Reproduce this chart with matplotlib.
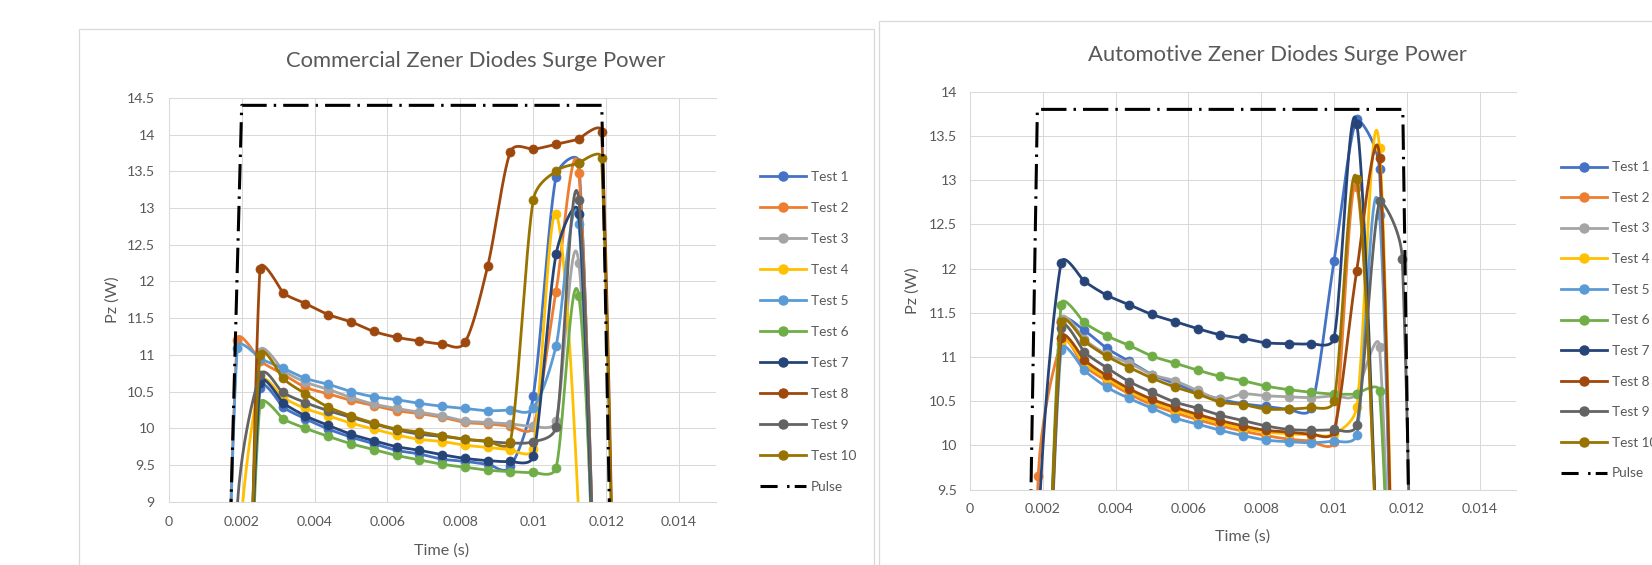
import matplotlib
matplotlib.use('Agg')
import matplotlib.pyplot as plt
import numpy as np
from matplotlib.lines import Line2D
from matplotlib.patches import Rectangle

W, H, DPI = 1652, 565, 100

# ---------------- data ----------------
time_s = [0.00125, 0.001875, 0.0025, 0.003125, 0.00375, 0.004375, 0.005,
          0.005625, 0.00625, 0.006875, 0.0075, 0.008125, 0.00875, 0.009375,
          0.01, 0.010625, 0.01125, 0.011875, 0.0125]

series_labels = ['Test 1', 'Test 2', 'Test 3', 'Test 4', 'Test 5',
                 'Test 6', 'Test 7', 'Test 8', 'Test 9', 'Test 10']
series_colors = ['#4472C4', '#ED7D31', '#A5A5A5', '#FFC000', '#5B9BD5',
                 '#70AD47', '#264478', '#9E480E', '#636363', '#997300']

# Commercial Zener diodes
com_test1 = [0, 3.0, 10.55, 10.29, 10.13, 9.99, 9.88, 9.79, 9.70, 9.65, 9.58, 9.55, 9.51, 9.48, 10.44, 13.43, 13.62, 5.0, 0]
com_test2 = [0, 11.20, 10.92, 10.74, 10.56, 10.47, 10.38, 10.31, 10.24, 10.20, 10.15, 10.08, 10.06, 10.03, 10.02, 11.86, 13.48, 5.0, 0]
com_test3 = [0, 3.0, 11.04, 10.79, 10.63, 10.53, 10.42, 10.33, 10.27, 10.22, 10.17, 10.10, 10.08, 10.06, 10.03, 10.10, 12.25, 5.0, 0]
com_test4 = [0, 8.0, 10.63, 10.42, 10.27, 10.17, 10.07, 9.99, 9.91, 9.85, 9.82, 9.77, 9.74, 9.71, 9.72, 12.92, 8.8, 0, 0]
com_test5 = [0, 11.10, 10.95, 10.82, 10.68, 10.60, 10.50, 10.43, 10.39, 10.34, 10.30, 10.27, 10.24, 10.25, 10.28, 11.12, 12.78, 5.0, 0]
com_test6 = [0, 3.0, 10.33, 10.13, 10.00, 9.89, 9.79, 9.71, 9.63, 9.57, 9.51, 9.47, 9.43, 9.41, 9.40, 9.46, 11.80, 5.5, 0]
com_test7 = [0, 3.0, 10.62, 10.35, 10.17, 10.04, 9.92, 9.83, 9.75, 9.70, 9.64, 9.59, 9.56, 9.55, 9.62, 12.37, 12.92, 5.0, 0]
com_test8 = [0, 0, 12.17, 11.85, 11.70, 11.55, 11.45, 11.32, 11.24, 11.19, 11.15, 11.17, 12.21, 13.77, 13.80, 13.87, 13.94, 14.04, 0]
com_test9 = [0, 8.9, 10.72, 10.49, 10.35, 10.24, 10.15, 10.06, 9.98, 9.92, 9.89, 9.85, 9.82, 9.80, 9.82, 10.02, 13.11, 5.0, 0]
com_test10 = [0, 3.0, 11.00, 10.68, 10.47, 10.29, 10.17, 10.07, 9.99, 9.95, 9.90, 9.85, 9.83, 9.82, 13.11, 13.50, 13.61, 13.68, 0]

# Automotive Zener diodes
aut_test1 = [0, 5.0, 11.40, 11.30, 11.10, 10.95, 10.80, 10.70, 10.60, 10.52, 10.47, 10.44, 10.41, 10.42, 12.08, 13.69, 13.12, 4.0, 0]
aut_test2 = [0, 9.65, 11.15, 10.90, 10.73, 10.58, 10.46, 10.37, 10.29, 10.22, 10.16, 10.11, 10.07, 10.05, 10.04, 12.92, 8.0, 0, 0]
aut_test3 = [0, 5.0, 11.42, 11.20, 11.03, 10.93, 10.80, 10.73, 10.62, 10.52, 10.58, 10.56, 10.55, 10.54, 10.56, 10.58, 11.11, 4.0, 0]
aut_test4 = [0, 5.0, 11.17, 10.93, 10.76, 10.61, 10.49, 10.40, 10.32, 10.25, 10.19, 10.15, 10.13, 10.12, 10.13, 10.43, 13.36, 4.0, 0]
aut_test5 = [0, 5.0, 11.08, 10.85, 10.66, 10.53, 10.42, 10.31, 10.24, 10.17, 10.11, 10.06, 10.04, 10.03, 10.05, 10.12, 12.60, 4.0, 0]
aut_test6 = [0, 5.0, 11.59, 11.39, 11.24, 11.13, 11.01, 10.93, 10.85, 10.78, 10.73, 10.67, 10.63, 10.60, 10.58, 10.58, 10.61, 4.0, 0]
aut_test7 = [0, 9.0, 12.06, 11.86, 11.70, 11.59, 11.48, 11.40, 11.32, 11.25, 11.21, 11.16, 11.15, 11.15, 11.21, 13.64, 8.0, 0, 0]
aut_test8 = [0, 5.0, 11.21, 10.97, 10.79, 10.64, 10.52, 10.43, 10.35, 10.28, 10.22, 10.17, 10.15, 10.13, 10.16, 11.97, 13.25, 4.0, 0]
aut_test9 = [0, 5.0, 11.33, 11.06, 10.88, 10.72, 10.60, 10.49, 10.42, 10.34, 10.28, 10.22, 10.18, 10.17, 10.18, 10.23, 12.76, 12.11, 0]
aut_test10 = [0, 5.0, 11.39, 11.18, 11.01, 10.88, 10.76, 10.66, 10.58, 10.49, 10.46, 10.41, 10.41, 10.43, 10.50, 13.01, 8.0, 0, 0]

pulse_com_t = [0.00122, 0.0020, 0.01188, 0.01243]
pulse_com_p = [0, 14.4, 14.4, 0]
pulse_aut_t = [0.00129, 0.00185, 0.01189, 0.01238]
pulse_aut_p = [0, 13.8, 13.8, 0]

x_ticks = [0, 0.002, 0.004, 0.006, 0.008, 0.01, 0.012, 0.014]
x_tick_labels = ['0', '0.002', '0.004', '0.006', '0.008', '0.01', '0.012', '0.014']
com_y_ticks = [9, 9.5, 10, 10.5, 11, 11.5, 12, 12.5, 13, 13.5, 14, 14.5]
com_y_labels = ['9', '9.5', '10', '10.5', '11', '11.5', '12', '12.5', '13', '13.5', '14', '14.5']
aut_y_ticks = [9.5, 10, 10.5, 11, 11.5, 12, 12.5, 13, 13.5, 14]
aut_y_labels = ['9.5', '10', '10.5', '11', '11.5', '12', '12.5', '13', '13.5', '14']

com_title = 'Commercial Zener Diodes Surge Power'
aut_title = 'Automotive Zener Diodes Surge Power'

# ---------------- style ----------------
plt.rcParams['font.family'] = ['Lato', 'DejaVu Sans']
TXT = '#595959'
GRID = '#D9D9D9'
LW = 2.0
MS = 6.5
PULSE_LW = 2.2
PULSE_LS = (0, (8.3, 2.3, 0.8, 2.3))
PULSE_LEG_LS = (0, (5.6, 3.1, 0.8, 1.7))

fig = plt.figure(figsize=(W / DPI, H / DPI), dpi=DPI)
fig.patch.set_facecolor('white')
renderer = fig.canvas.get_renderer()
PX_PER_PT = DPI / 72.0


def fx(px):
    return px / W


def fy(py):
    return 1 - py / H


def text_extent(s, size, **kw):
    t = fig.text(0, 0, s, fontsize=size, **kw)
    bb = t.get_window_extent(renderer)
    t.remove()
    return bb.width, bb.height


def fit_size(s, target_px, base=10.0):
    w, _ = text_extent(s, base)
    return base * target_px / w


TITLE_FS = fit_size(com_title, 380)
TICK_FS = fit_size('0.002', 36)
AXT_FS = fit_size('Time (s)', 55)
LEG_FS = fit_size('Test 1', 37.5)

# chart panels (chart-area borders)
fig.add_artist(Rectangle((fx(79), fy(575)), fx(874) - fx(79), fy(28.5) - fy(575),
                         transform=fig.transFigure, fill=False, ec=GRID, lw=0.9))
fig.add_artist(Rectangle((fx(879), fy(575)), fx(1700) - fx(879), fy(21) - fy(575),
                         transform=fig.transFigure, fill=False, ec=GRID, lw=0.9))


def excel_smooth(ax, xs, ys, n=40):
    """Bezier smoothing in screen space, after the spreadsheet 'smoothed line'."""
    pts = ax.transData.transform(np.column_stack([xs, ys]))
    P = np.vstack([pts[0], pts, pts[-1]])
    out = [pts[:1]]
    s = np.linspace(0, 1, n)[1:, None]
    for i in range(len(pts) - 1):
        p0, p1, p2, p3 = P[i], P[i + 1], P[i + 2], P[i + 3]
        d12 = np.hypot(*(p2 - p1))
        d02 = np.hypot(*(p2 - p0))
        d13 = np.hypot(*(p3 - p1))
        if d12 == 0:
            continue
        if d02 / 6 < d12 / 2 and d13 / 6 < d12 / 2:
            f1 = 1 / 3 if np.allclose(p0, p1) else 1 / 6
            f2 = 1 / 3 if np.allclose(p2, p3) else 1 / 6
            b1 = p1 + (p2 - p0) * f1
            b2 = p2 - (p3 - p1) * f2
        elif d02 / 6 >= d12 / 2 and d13 / 6 >= d12 / 2:
            b1 = p1 + (p2 - p0) * d12 / 2 / d02
            b2 = p2 - (p3 - p1) * d12 / 2 / d13
        elif d02 / 6 >= d12 / 2:
            k = d12 / 2 / d02
            b1 = p1 + (p2 - p0) * k
            b2 = p2 - (p3 - p1) * k
        else:
            k = d12 / 2 / d13
            b1 = p1 + (p2 - p0) * k
            b2 = p2 - (p3 - p1) * k
        seg = ((1 - s) ** 3) * p1 + 3 * ((1 - s) ** 2) * s * b1 \
            + 3 * (1 - s) * s ** 2 * b2 + s ** 3 * p2
        out.append(seg)
    out = np.vstack(out)
    return ax.transData.inverted().transform(out)


def make_chart(rect_px, ylim, yticks, ylabels, series, pulse_t, pulse_p,
               title, title_xy, ylab_xy, xlab_xy, leg_xy, ypad, xpad):
    x0, y0, x1, y1 = rect_px
    ax = fig.add_axes([fx(x0), fy(y1), fx(x1) - fx(x0), fy(y0) - fy(y1)])
    ax.set_xlim(0, 0.015)
    ax.set_ylim(*ylim)
    ax.set_xticks(x_ticks)
    ax.set_xticklabels(x_tick_labels)
    ax.set_yticks(yticks)
    ax.set_yticklabels(ylabels)
    ax.set_facecolor('none')
    ax.spines['right'].set_visible(False)
    for side in ['left', 'bottom', 'top']:
        ax.spines[side].set_color(GRID)
        ax.spines[side].set_linewidth(0.75)
    ax.grid(True, color=GRID, lw=0.75, zorder=0)
    ax.set_axisbelow(True)
    ax.tick_params(axis='both', length=0, labelcolor=TXT, labelsize=TICK_FS)
    ax.tick_params(axis='y', pad=ypad)
    ax.tick_params(axis='x', pad=xpad)

    handles = []
    for i, (vals, lab, col) in enumerate(zip(series, series_labels, series_colors)):
        curve = excel_smooth(ax, time_s, vals)
        ax.plot(curve[:, 0], curve[:, 1], color=col, lw=LW, zorder=3 + i * 0.1,
                solid_capstyle='round', solid_joinstyle='round')
        ax.plot(time_s, vals, ls='none', marker='o', ms=MS, color=col, mec=col,
                mew=0.5, zorder=3.05 + i * 0.1)
        handles.append(Line2D([], [], color=col, lw=LW, marker='o', ms=MS, mec=col))
    ax.plot(pulse_t, pulse_p, color='black', lw=PULSE_LW, ls=PULSE_LS, zorder=5)
    handles.append(Line2D([], [], color='black', lw=PULSE_LW, ls=PULSE_LEG_LS))

    # legend: first-row centre at leg_xy[1], row pitch leg_xy[2]
    fs_px = LEG_FS * PX_PER_PT
    _, th = text_extent('Test 1', LEG_FS)
    spacing = (leg_xy[2] - th) / fs_px
    top = leg_xy[1] - th / 2
    leg = ax.legend(handles, series_labels + ['Pulse'], loc='upper left',
                    bbox_to_anchor=(fx(leg_xy[0]), fy(top)),
                    bbox_transform=fig.transFigure, frameon=False, borderpad=0,
                    borderaxespad=0, handlelength=46 / fs_px,
                    handletextpad=5 / fs_px, labelspacing=spacing,
                    fontsize=LEG_FS)
    for t in leg.get_texts():
        t.set_color(TXT)

    fig.text(fx(title_xy[0]), fy(title_xy[1]), title, ha='center', va='center',
             fontsize=TITLE_FS, color=TXT)
    fig.text(fx(ylab_xy[0]), fy(ylab_xy[1]), 'Pz (W)', ha='center', va='center',
             rotation=90, fontsize=AXT_FS, color=TXT)
    fig.text(fx(xlab_xy[0]), fy(xlab_xy[1]), 'Time (s)', ha='center', va='center',
             fontsize=AXT_FS, color=TXT)
    return ax


com_series = [com_test1, com_test2, com_test3, com_test4, com_test5,
              com_test6, com_test7, com_test8, com_test9, com_test10]
aut_series = [aut_test1, aut_test2, aut_test3, aut_test4, aut_test5,
              aut_test6, aut_test7, aut_test8, aut_test9, aut_test10]

make_chart((168.8, 98, 715.5, 501.7), (9, 14.5), com_y_ticks, com_y_labels,
           com_series, pulse_com_t, pulse_com_p, com_title,
           (476, 61), (113, 300), (442, 551), (760, 176.6, 31.0), 10, 10.5)
make_chart((970, 91.7, 1516, 489.5), (9.5, 14), aut_y_ticks, aut_y_labels,
           aut_series, pulse_aut_t, pulse_aut_p, aut_title,
           (1277, 55.3), (913, 290.6), (1243, 537), (1561, 167.3, 30.6), 9.5, 9.5)

fig.savefig('out.png', dpi=DPI, facecolor='white')
